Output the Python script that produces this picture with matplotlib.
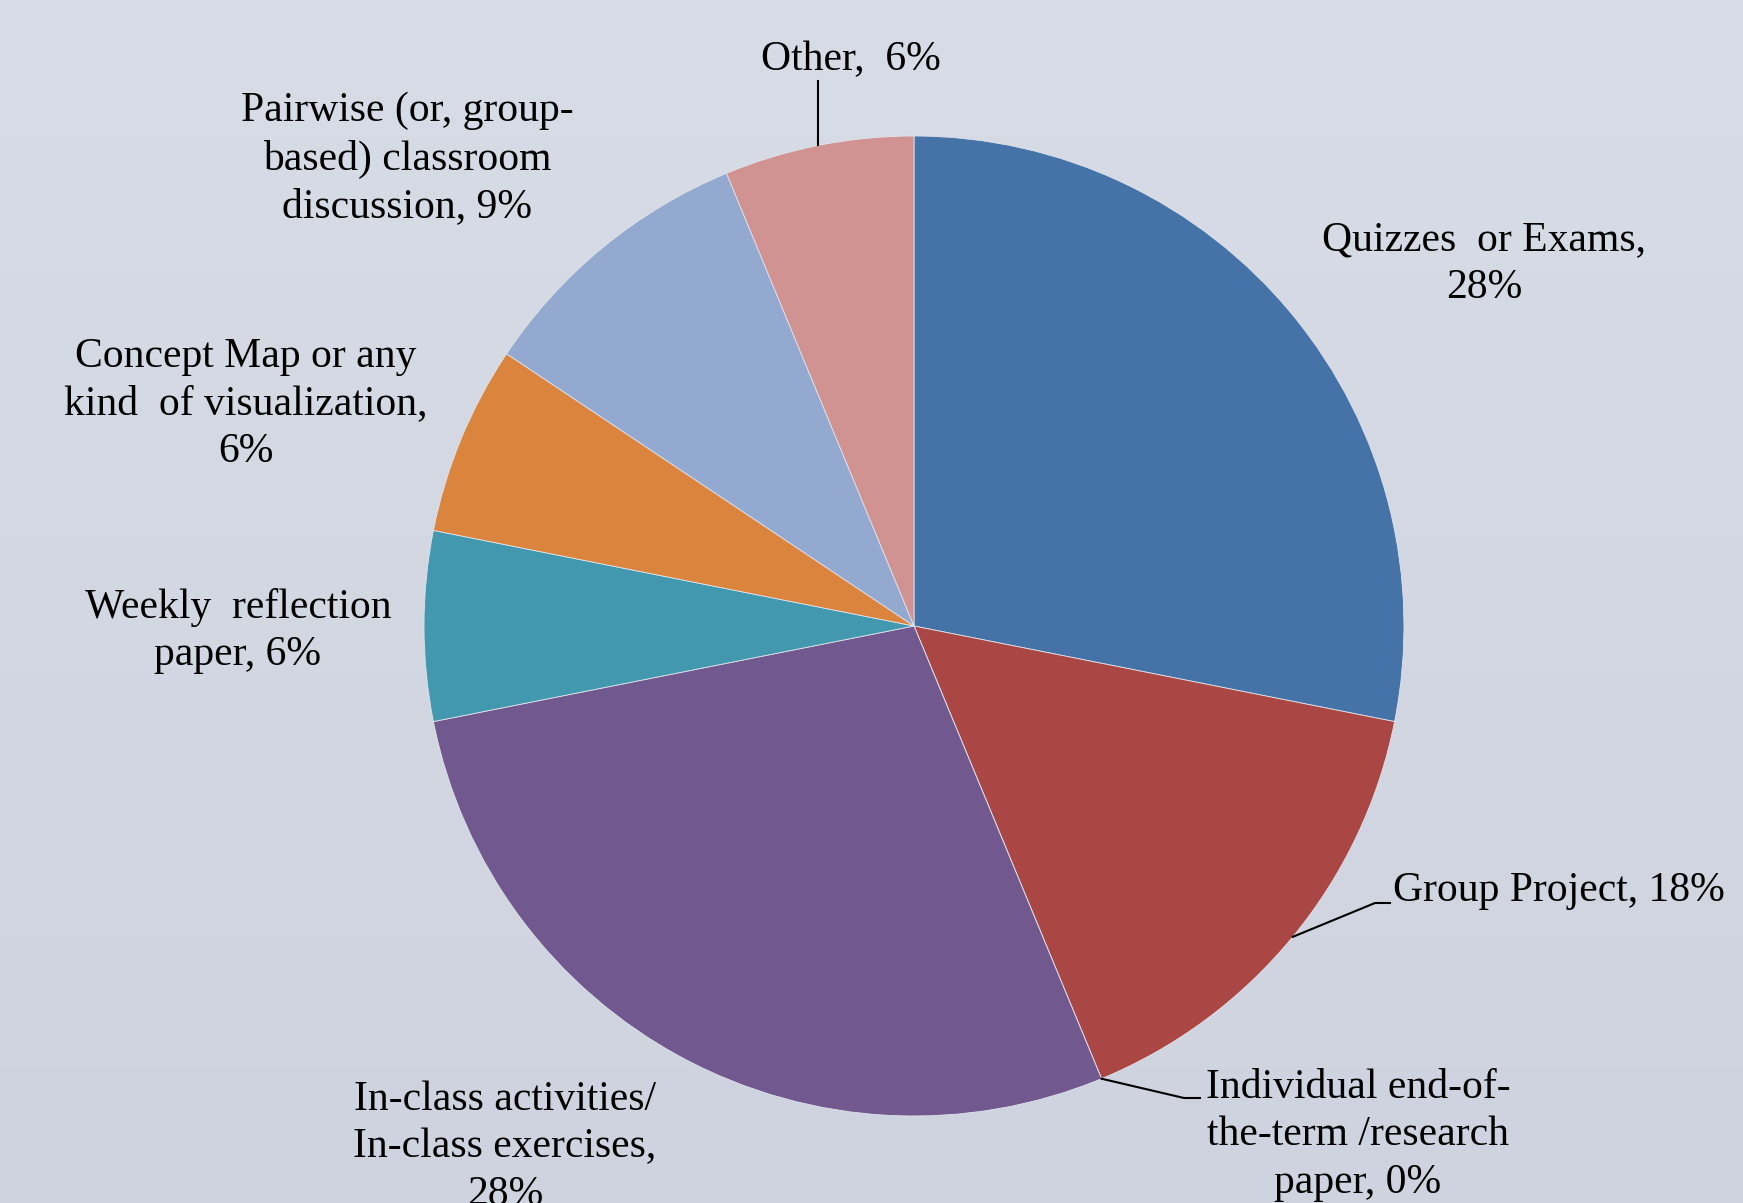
import matplotlib.pyplot as plt
import numpy as np

# データ
categories = ['Quizzes or Exams', 'Group Project',
              'Individual end-of-the-term /research paper',
              'In-class activities/ In-class exercises',
              'Weekly reflection paper',
              'Concept Map or any kind of visualization',
              'Pairwise (or, group-based) classroom discussion', 'Other']
counts = [9, 5, 0, 9, 2, 2, 3, 2]
pct_labels = ['28%', '18%', '0%', '28%', '6%', '6%', '9%', '6%']
colors = ['#4572A7', '#AA4643', '#DB843D', '#71588F', '#4198AF',
          '#DB843D', '#93A9CF', '#D19392']

label_text = [
    'Quizzes  or Exams,\n' + pct_labels[0],
    'Group Project, ' + pct_labels[1],
    'Individual end-of-\nthe-term /research\npaper, ' + pct_labels[2],
    'In-class activities/\nIn-class exercises,\n' + pct_labels[3],
    'Weekly  reflection\npaper, ' + pct_labels[4],
    'Concept Map or any\nkind  of visualization,\n' + pct_labels[5],
    'Pairwise (or, group-\nbased) classroom\ndiscussion, ' + pct_labels[6],
    'Other,  ' + pct_labels[7],
]

W, H = 1743, 1203
cx, cy, R = 914, 626, 490

plt.rcParams['font.family'] = ['Liberation Serif', 'DejaVu Serif']

fig = plt.figure(figsize=(W / 100, H / 100), dpi=100)
ax = fig.add_axes([0, 0, 1, 1])

# 背景グラデーション
grad = np.linspace(0, 1, 256).reshape(-1, 1)
top = np.array([0xd7, 0xdc, 0xe6]) / 255
bot = np.array([0xcf, 0xd3, 0xdf]) / 255
img = top + (bot - top) * grad[:, :, None]
ax.imshow(img, extent=[0, W, 0, H], aspect='auto', origin='upper', zorder=0)

wedges, _ = ax.pie(counts, colors=colors, startangle=90, counterclock=False,
                   center=(cx, H - cy), radius=R, frame=True,
                   wedgeprops=dict(edgecolor='#dfe3ec', linewidth=0.6))
ax.set_xlim(0, W)
ax.set_ylim(0, H)
ax.set_aspect('equal')
ax.axis('off')
for w in wedges:
    w.set_zorder(2)


def rim(i):
    w = wedges[i]
    a = np.deg2rad((w.theta1 + w.theta2) / 2)
    return cx + R * np.cos(a), H - cy + R * np.sin(a)


fs = 30
txt = dict(fontsize=fs, color='black', ha='center', va='center',
           multialignment='center', linespacing=1.31, zorder=3)

# ラベル位置 (pixel, 上から)
pos = {0: (1484, 264), 1: (1393, 891), 2: (1358, 1135), 3: (505, 1147),
       4: (238, 631), 5: (246, 404), 6: (407, 159), 7: (851, 60)}
for i, (x, y) in pos.items():
    kw = dict(txt)
    if i == 1:
        kw['ha'] = 'left'
    ax.text(x, H - y, label_text[i], **kw)

# 引き出し線
lk = dict(color='black', lw=1.5, zorder=3)
x0, y0 = rim(7)
ax.plot([x0, x0], [y0, H - 81], **lk)
x0, y0 = rim(1)
ax.plot([x0, 1375, 1390], [y0, H - 903, H - 903], **lk)
x0, y0 = rim(2)
ax.plot([x0, 1184, 1200], [y0, H - 1098, H - 1098], **lk)

fig.savefig('out.png', dpi=100)
